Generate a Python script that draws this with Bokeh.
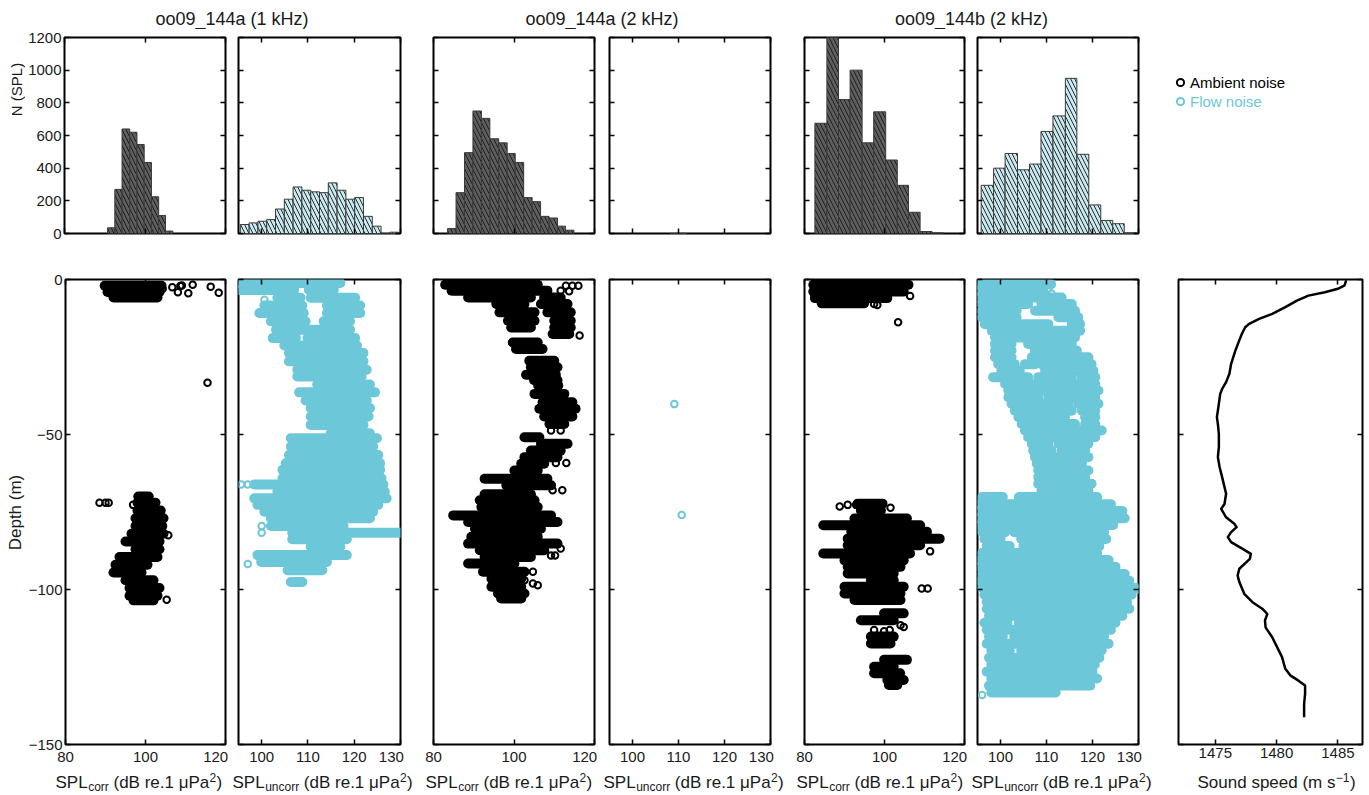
import math
from bokeh.plotting import figure
from bokeh.models import (Range1d, LinearAxis, FixedTicker, Label, Legend,
                          LegendItem, ColumnDataSource, Spacer)
from bokeh.layouts import column, row
from bokeh.embed import file_html
from bokeh.resources import INLINE
from bokeh.core.properties import value

# ------------------------------------------------------------------ data
pair_titles = ["oo09_144a (1 kHz)", "oo09_144a (2 kHz)", "oo09_144b (2 kHz)"]
legend_labels = ["Ambient noise", "Flow noise"]
y_titles = ["N (SPL)", "Depth (m)"]

count_ticks = [0, 200, 400, 600, 800, 1000, 1200]
count_tick_labels = ["0", "200", "400", "600", "800", "1000", "1200"]
depth_ticks = [0, -50, -100, -150]
depth_tick_labels = ["0", "\u221250", "\u2212100", "\u2212150"]
corr_ticks = [80, 100, 120]
corr_tick_labels = ["80", "100", "120"]
uncorr_ticks = [100, 110, 120, 130]
uncorr_tick_labels = ["100", "110", "120", "130"]
speed_ticks = [1475, 1480, 1485]
speed_tick_labels = ["1475", "1480", "1485"]

# histograms (bin edges, counts)
h_amb_a1_edges = [90.7, 92.5, 94.3, 96.2, 98.0, 99.8, 101.6, 103.4, 105.1, 106.9]
h_amb_a1_counts = [35, 270, 640, 620, 545, 435, 225, 110, 15]
h_flow_a1_edges = [95.4, 97.3, 99.2, 101.1, 103.0, 104.9, 106.8, 108.7, 110.6, 112.5,
                   114.4, 116.3, 118.2, 120.1, 122.0, 123.9, 125.8, 127.7, 129.6]
h_flow_a1_counts = [55, 65, 75, 85, 150, 210, 285, 265, 255, 250, 310, 265, 210, 220,
                    105, 45, 0, 8]
h_amb_a2_edges = [83.5, 85.6, 87.7, 89.8, 91.9, 94.0, 96.2, 98.3, 100.3, 102.4, 104.5,
                  106.6, 108.7, 110.8, 112.8, 114.9]
h_amb_a2_counts = [30, 250, 495, 750, 705, 580, 555, 490, 435, 220, 195, 105, 95, 45, 20]
h_flow_a2_edges = [108.2, 110.0, 111.8]
h_flow_a2_counts = [1, 1]
h_amb_b2_edges = [82.6, 85.6, 88.5, 91.4, 94.4, 97.3, 100.3, 103.2, 106.0, 108.9, 111.9, 114.7]
h_amb_b2_counts = [675, 1215, 820, 1000, 555, 745, 450, 295, 130, 12, 4]
h_flow_b2_edges = [95.8, 98.5, 101.0, 103.7, 106.3, 108.8, 111.4, 114.1, 116.6, 119.2,
                   121.8, 124.4, 126.9, 129.6]
h_flow_b2_counts = [295, 400, 490, 390, 425, 625, 720, 950, 485, 175, 80, 60, 4]

# scatter clouds: rows of (depth, SPL from, SPL to) + isolated points (SPL, depth)
amb_a1_rows = [(-2.0, 89.8, 104.0), (-4.0, 90.5, 103.5), (-5.8, 92.0, 103.0),
               (-70.0, 98.2, 100.8), (-72.0, 98.0, 102.5), (-74.5, 98.0, 103.8),
               (-77.0, 97.5, 104.5), (-79.5, 97.5, 104.2), (-82.0, 96.5, 104.5),
               (-84.5, 95.0, 103.5), (-87.0, 97.5, 103.5), (-89.5, 93.5, 103.0),
               (-92.0, 92.5, 100.5), (-94.5, 92.0, 99.0), (-97.0, 95.0, 102.0),
               (-99.5, 96.0, 103.5), (-102.0, 96.0, 103.0), (-103.5, 97.0, 102.0)]
amb_a1_points = [(104.3, -3.0), (106.7, -2.5), (108.1, -4.1), (108.7, -2.1), (109.1, -1.9),
                 (110.7, -4.4), (111.8, -1.7), (116.3, -2.3), (118.3, -4.3), (115.5, -33.3),
                 (88.5, -72.0), (90.0, -72.0), (90.8, -72.0), (96.9, -72.7), (105.7, -82.5),
                 (105.3, -103.3)]

flow_a1_rows = [(-1.1, 94.9, 117.0),
                (-3.4, 95.0, 107.0), (-3.4, 110.2, 115.6),
                (-5.9, 103.4, 108.4), (-5.9, 110.6, 120.2),
                (-8.4, 100.6, 108.8), (-8.4, 114.1, 121.3),
                (-10.8, 99.5, 109.1), (-10.8, 114.1, 121.3),
                (-13.5, 102.0, 109.5), (-13.5, 113.4, 119.1),
                (-16.2, 103.1, 110.6), (-16.2, 111.3, 119.1),
                (-18.9, 102.4, 107.4), (-18.9, 109.9, 120.2),
                (-21.3, 104.9, 109.1), (-21.3, 110.9, 120.6),
                (-23.7, 105.9, 109.9), (-23.7, 111.3, 122.0),
                (-26.4, 105.9, 122.0), (-29.1, 107.7, 122.7), (-31.3, 107.7, 121.6),
                (-33.9, 112.0, 123.4), (-36.4, 108.1, 124.5), (-39.0, 109.5, 122.7),
                (-41.5, 110.6, 123.4), (-44.2, 110.6, 123.1), (-46.9, 110.6, 122.0),
                (-49.6, 114.9, 123.4), (-51.2, 106.3, 124.9), (-53.9, 106.3, 124.1),
                (-56.6, 105.9, 125.2), (-59.3, 105.2, 125.6), (-61.4, 104.5, 125.6),
                (-64.1, 104.5, 125.9), (-66.1, 98.4, 126.3), (-68.4, 103.4, 126.6),
                (-70.6, 98.4, 127.0), (-72.7, 99.1, 125.2), (-74.9, 100.6, 124.1),
                (-77.0, 102.0, 123.4), (-79.5, 102.0, 117.7), (-81.7, 106.6, 129.9),
                (-83.8, 106.6, 118.4), (-86.2, 110.6, 117.0), (-88.9, 99.1, 118.4),
                (-91.1, 99.9, 114.1), (-93.8, 105.6, 113.1), (-97.6, 106.3, 108.8)]
flow_a1_points = [(100.6, -6.5), (95.6, -66.1), (97.0, -66.1), (100.0, -79.5),
                  (100.0, -81.7), (97.0, -91.8)]

amb_a2_rows = [(-1.7, 82.9, 105.9), (-3.6, 84.5, 108.3),
               (-5.8, 88.6, 104.2), (-5.8, 107.5, 111.6),
               (-7.9, 95.6, 102.6), (-7.9, 106.7, 113.3),
               (-10.6, 96.4, 105.1), (-10.6, 108.3, 114.1),
               (-13.3, 98.5, 105.1), (-13.3, 110.0, 114.1),
               (-15.5, 99.3, 104.2), (-15.5, 110.0, 114.1),
               (-17.6, 109.6, 113.7), (-20.3, 99.7, 105.9), (-22.4, 100.5, 107.1),
               (-26.2, 103.8, 110.0), (-28.3, 104.2, 110.8), (-30.7, 103.0, 110.4),
               (-32.5, 105.0, 110.8), (-34.2, 106.0, 111.0), (-36.9, 105.1, 112.5),
               (-39.6, 107.1, 114.5), (-41.7, 106.3, 115.3), (-44.2, 107.5, 114.5),
               (-46.6, 108.8, 112.5), (-50.9, 102.6, 106.3), (-53.0, 106.7, 113.3),
               (-55.2, 104.2, 111.6), (-57.3, 102.6, 110.8), (-59.4, 101.8, 107.5),
               (-61.6, 100.1, 105.9), (-64.3, 92.7, 108.3), (-66.4, 98.1, 109.2),
               (-69.3, 92.7, 104.2), (-71.2, 91.5, 105.1), (-73.4, 91.9, 105.9),
               (-76.1, 84.9, 109.2), (-78.2, 88.6, 110.8), (-80.4, 90.3, 106.7),
               (-83.0, 89.4, 105.9), (-85.2, 88.6, 110.8), (-87.3, 91.5, 107.5),
               (-89.5, 92.7, 104.2), (-91.6, 88.6, 100.1), (-94.3, 92.3, 102.6),
               (-96.5, 94.4, 101.8), (-99.1, 94.4, 101.8), (-101.3, 96.0, 102.6),
               (-102.9, 96.8, 101.8)]
amb_a2_points = [(112.9, -2.0), (114.5, -2.0), (116.0, -2.0), (111.6, -3.6), (113.7, -3.8),
                 (113.9, -17.6), (116.3, -18.1), (109.2, -48.7), (111.6, -48.7),
                 (110.4, -59.2), (113.0, -59.2), (109.6, -68.0), (112.0, -68.0),
                 (92.7, -79.8), (93.5, -79.8), (111.6, -86.8), (109.2, -89.0),
                 (110.2, -89.0), (104.7, -94.3), (102.6, -97.0), (104.7, -98.1),
                 (105.9, -98.6)]

flow_a2_rows = []
flow_a2_points = [(109.1, -40.2), (110.7, -76.0)]

amb_b2_rows = [(-1.7, 82.2, 106.0), (-3.9, 82.2, 104.8), (-6.0, 82.6, 100.7),
               (-7.7, 84.3, 94.9),
               (-72.3, 93.3, 99.5), (-74.5, 94.1, 99.1), (-77.1, 92.5, 105.6),
               (-79.3, 84.7, 108.9), (-81.4, 91.7, 110.6), (-83.6, 90.8, 113.8),
               (-85.7, 90.8, 108.9), (-88.4, 84.7, 106.4), (-90.6, 90.0, 104.8),
               (-92.7, 90.8, 104.0), (-94.8, 90.8, 102.3), (-97.0, 96.6, 102.3),
               (-99.1, 90.0, 104.8), (-101.3, 90.0, 104.0), (-103.4, 92.5, 104.0),
               (-107.7, 99.9, 104.8), (-109.9, 94.1, 102.3), (-115.2, 96.6, 102.3),
               (-117.4, 96.6, 101.5), (-122.7, 99.9, 105.6), (-124.9, 97.4, 102.3),
               (-127.0, 97.4, 103.9), (-129.2, 100.7, 104.8), (-130.8, 101.1, 103.2)]
amb_b2_points = [(106.4, -5.3), (97.4, -7.9), (98.2, -8.2), (103.4, -13.8), (88.8, -73.2),
                 (90.8, -72.7), (92.9, -72.7), (101.5, -73.6), (111.4, -87.7),
                 (109.3, -99.7), (110.8, -99.7), (104.0, -111.5), (104.8, -112.1),
                 (97.4, -113.1), (99.9, -113.5), (101.3, -113.1)]

flow_b2_rows = [(-1.5, 95.0, 111.0), (-3.6, 95.0, 109.3),
                (-5.8, 95.0, 104.6), (-5.8, 105.7, 113.3),
                (-7.9, 95.9, 106.0), (-7.9, 108.9, 115.5),
                (-10.1, 95.9, 103.5), (-10.1, 107.5, 116.2),
                (-12.2, 95.9, 103.5), (-12.2, 112.6, 116.9),
                (-14.4, 96.6, 110.4), (-14.4, 115.5, 117.3),
                (-16.5, 98.1, 114.0), (-16.5, 115.1, 117.3),
                (-18.7, 98.8, 116.2),
                (-20.8, 98.8, 102.4), (-20.8, 106.0, 115.5),
                (-22.9, 98.8, 102.4), (-22.9, 107.5, 116.6),
                (-25.1, 98.8, 102.4), (-25.1, 106.8, 119.1),
                (-27.3, 99.5, 103.1), (-27.3, 105.3, 107.5), (-27.3, 108.9, 119.8),
                (-29.4, 100.2, 104.2), (-29.4, 109.7, 114.8), (-29.4, 116.6, 120.2),
                (-31.5, 98.4, 106.0), (-31.5, 108.2, 115.5), (-31.5, 117.7, 120.6),
                (-33.7, 101.0, 106.8), (-33.7, 108.2, 117.7), (-33.7, 118.4, 120.6),
                (-35.8, 101.7, 107.5), (-35.8, 108.9, 121.3),
                (-38.0, 101.7, 108.2), (-38.0, 110.4, 116.9), (-38.0, 118.4, 120.6),
                (-40.1, 102.4, 114.8), (-40.1, 116.9, 121.3),
                (-42.3, 103.1, 115.5), (-42.3, 117.7, 120.6),
                (-44.4, 103.9, 114.0), (-44.4, 118.4, 120.6),
                (-46.6, 104.6, 108.2), (-46.6, 109.7, 116.2), (-46.6, 118.4, 120.6),
                (-48.7, 105.3, 118.4), (-48.7, 119.8, 122.0),
                (-50.9, 106.0, 109.7), (-50.9, 111.1, 120.6),
                (-53.0, 106.8, 110.4), (-53.0, 112.6, 119.1),
                (-55.2, 107.1, 111.1), (-55.2, 113.3, 118.4),
                (-57.3, 107.5, 119.1),
                (-59.4, 107.9, 111.8), (-59.4, 113.3, 117.7),
                (-61.6, 108.2, 119.1), (-63.7, 108.2, 118.4), (-65.9, 108.2, 119.8),
                (-68.0, 108.9, 119.1),
                (-70.2, 96.0, 100.5), (-70.2, 104.0, 121.0),
                (-72.5, 95.0, 124.0), (-74.7, 95.0, 126.5), (-77.0, 95.0, 127.0),
                (-79.2, 95.5, 124.5),
                (-81.5, 96.0, 101.0), (-81.5, 103.0, 122.5),
                (-83.7, 96.5, 100.0), (-83.7, 104.5, 123.0),
                (-86.0, 97.0, 102.0), (-86.0, 105.0, 121.5),
                (-88.2, 96.0, 121.0), (-90.5, 95.5, 123.5), (-92.7, 95.5, 125.0),
                (-95.0, 96.0, 127.0), (-97.2, 95.5, 128.0), (-99.5, 96.0, 129.5),
                (-101.7, 96.5, 128.5), (-104.0, 97.0, 127.5),
                (-106.2, 97.0, 103.0), (-106.2, 105.0, 128.0),
                (-108.5, 97.5, 126.5),
                (-110.7, 96.5, 101.5), (-110.7, 104.0, 125.0),
                (-113.0, 97.0, 124.0),
                (-115.2, 97.5, 100.5), (-115.2, 103.0, 122.5),
                (-117.5, 97.0, 123.5),
                (-119.7, 98.0, 102.0), (-119.7, 104.5, 122.0),
                (-122.0, 97.5, 121.5), (-124.2, 98.0, 120.5), (-126.5, 97.0, 120.0),
                (-128.7, 98.0, 121.0), (-131.0, 97.5, 119.5), (-133.2, 98.0, 112.0)]
flow_b2_points = [(110.4, -3.0), (111.1, -4.5), (130.0, -100.0), (96.0, -134.0)]

sound_speed = [1485.67, 1485.54, 1485.0, 1483.93, 1482.59, 1481.65, 1480.71, 1479.64,
               1478.57, 1477.76, 1477.44, 1477.17, 1476.90, 1476.64, 1476.29, 1476.15,
               1475.88, 1475.56, 1475.40, 1475.29, 1475.13, 1475.21, 1475.29, 1475.29,
               1475.21, 1475.35, 1475.62, 1475.88, 1475.75, 1475.48, 1475.88, 1476.55,
               1476.74, 1476.29, 1476.02, 1476.29, 1477.23, 1477.90, 1477.82, 1476.96,
               1476.82, 1476.96, 1477.36, 1478.03, 1478.83, 1479.24, 1479.05, 1479.10,
               1479.64, 1480.04, 1480.44, 1480.71, 1481.11, 1481.78, 1482.32, 1482.32,
               1482.24, 1482.24]
sound_depth = [-0.3, -1.9, -3.0, -4.1, -5.2, -6.8, -8.9, -11.1, -12.7, -14.3, -15.4, -17.5,
               -20.2, -22.9, -27.2, -30.4, -33.1, -35.3, -36.9, -40.1, -44.4, -46.6, -49.8,
               -54.1, -57.3, -60.5, -64.8, -69.1, -72.4, -74.0, -76.7, -78.8, -79.9, -81.5,
               -83.1, -84.7, -86.9, -88.5, -90.1, -93.3, -95.5, -97.6, -101.4, -104.1,
               -106.2, -107.9, -110.0, -112.2, -115.4, -118.6, -121.8, -125.6, -127.7,
               -129.4, -131.0, -133.7, -136.9, -141.2]

# ------------------------------------------------------------------ style / layout
FONT = "Liberation Sans"
AMB = "#000000"
FLOW = "#6cc7d8"
HIST_DARK = "#5e5e5e"
HIST_LIGHT = "#c9e9f0"
TXT = "#1a1a1a"
TICK_FS = "15px"
NBSP = "\u00a0"

CORR_RANGE = (80, 120)
UNCORR_RANGE = (95, 130)
SPEED_RANGE = (1472, 1487)

LEFT_W = 25
# (left border, frame width, right border) per column
COLS = [(38, 162, 11), (2, 162, 20), (13, 161, 11), (4, 161, 20),
        (14, 160, 11), (2, 161, 20), (20, 184, 2)]
STRIP_H = 29
TOP_BT, TOP_FH, TOP_BB = 8, 196, 38
BOT_BT, BOT_FH, BOT_BB = 8, 466, 22
XL_H = 27
TOTAL_H = STRIP_H + TOP_BT + TOP_FH + TOP_BB + BOT_BT + BOT_FH + BOT_BB + XL_H

frames = []
_x = LEFT_W
for bl, fw, br in COLS:
    frames.append((_x + bl, _x + bl + fw))
    _x += bl + fw + br
MAIN_W = _x - LEFT_W

CHAR_W = {"S": 667, "P": 667, "L": 556, "c": 500, "o": 556, "r": 333, "u": 556,
          "n": 556, " ": 278, "(": 333, ")": 333, "d": 556, "B": 667, "e": 556,
          ".": 278, "1": 556, "\u03bc": 576, "a": 556, "2": 556, "m": 833,
          "s": 500, "p": 556, "\u2212": 584}


def text_width(s, size):
    return sum(CHAR_W.get(ch, 556) for ch in s) * size / 1000.0


def blank_fig(w, h, **borders):
    p = figure(width=w, height=h, title=None, x_range=Range1d(0, 1), y_range=Range1d(0, 1),
               x_axis_type=None, y_axis_type=None, output_backend="svg",
               toolbar_location=None,
               min_border_left=borders.get("left", 0), min_border_right=borders.get("right", 0),
               min_border_top=borders.get("top", 0), min_border_bottom=borders.get("bottom", 0))
    p.outline_line_color = None
    return p


def rich_label(p, x0, y_mid, pieces):
    # pieces: (text, font px, vertical shift of the text middle, gap before)
    x = x0
    for txt, size, dy, gap in pieces:
        x += gap
        p.add_layout(Label(x=x, y=y_mid + dy, x_units="screen", y_units="screen", text=txt,
                           text_font=FONT, text_font_size=f"{size}px", text_color=TXT,
                           text_baseline="middle", text_align="left"))
        x += text_width(txt, size)


def make_fig(ci, xr, yr, bt, fh, bb):
    bl, fw, br = COLS[ci]
    p = figure(width=bl + fw + br, height=bt + fh + bb, title=None,
               x_range=Range1d(*xr), y_range=Range1d(*yr),
               x_axis_type=None, y_axis_type=None,
               output_backend="svg", toolbar_location=None,
               min_border_left=bl, min_border_right=br,
               min_border_top=bt, min_border_bottom=bb)
    p.outline_line_color = "black"
    p.outline_line_width = 2
    p.background_fill_color = "white"
    p.border_fill_color = "white"
    return p


def add_axis(p, side, ticks, labels=None, standoff=3, pad_last=0):
    ax = LinearAxis(ticker=FixedTicker(ticks=ticks, minor_ticks=[]))
    ax.axis_line_color = None
    ax.major_tick_in = 5
    ax.major_tick_out = 0
    ax.major_tick_line_color = "black"
    ax.major_tick_line_width = 1.5
    ax.minor_tick_line_color = None
    if labels is None:
        ax.major_label_overrides = {t: "" for t in ticks}
        ax.major_label_text_font_size = "1px"
        ax.major_label_standoff = 0
    else:
        labs = list(labels)
        # the label sitting on the frame's right edge is pulled inside the box
        labs[-1] = labs[-1] + NBSP * pad_last
        ax.major_label_overrides = {t: l for t, l in zip(ticks, labs)}
        ax.major_label_text_font = FONT
        ax.major_label_text_font_size = TICK_FS
        ax.major_label_text_color = TXT
        ax.major_label_standoff = standoff
    p.add_layout(ax, side)
    return ax


# ------------------------------------------------------------------ left strip (y titles)
left_fig = blank_fig(LEFT_W, TOTAL_H)
left_fig.add_layout(Label(x=16, y=TOTAL_H - 89, x_units="screen", y_units="screen",
                          text=y_titles[0], text_font=FONT, text_font_size="15px",
                          text_color=TXT, angle=math.pi / 2, text_align="center",
                          text_baseline="middle"))
bot_frame_mid = STRIP_H + TOP_BT + TOP_FH + TOP_BB + BOT_BT + BOT_FH / 2.0
left_fig.add_layout(Label(x=15, y=TOTAL_H - bot_frame_mid, x_units="screen", y_units="screen",
                          text=y_titles[1], text_font=FONT, text_font_size="17px",
                          text_color=TXT, angle=math.pi / 2, text_align="center",
                          text_baseline="middle"))

# ------------------------------------------------------------------ title strip
strip = blank_fig(MAIN_W, STRIP_H)
for k, title in enumerate(pair_titles):
    cx = (frames[2 * k][0] + frames[2 * k + 1][1]) / 2.0 - LEFT_W
    strip.add_layout(Label(x=cx, y=STRIP_H - 18, x_units="screen", y_units="screen",
                           text=title, text_font=FONT, text_font_size="18px",
                           text_color=TXT, text_align="center", text_baseline="middle"))

# ------------------------------------------------------------------ histograms (top row)
hist_sets = [(h_amb_a1_edges, h_amb_a1_counts, "dark"),
             (h_flow_a1_edges, h_flow_a1_counts, "light"),
             (h_amb_a2_edges, h_amb_a2_counts, "dark"),
             (h_flow_a2_edges, h_flow_a2_counts, "light"),
             (h_amb_b2_edges, h_amb_b2_counts, "dark"),
             (h_flow_b2_edges, h_flow_b2_counts, "light")]

top_figs = []
for ci, (edges, counts, kind) in enumerate(hist_sets):
    corr = (ci % 2 == 0)
    xr = CORR_RANGE if corr else UNCORR_RANGE
    xt = corr_ticks if corr else uncorr_ticks
    p = make_fig(ci, xr, (0, 1200), TOP_BT, TOP_FH, TOP_BB)
    src = ColumnDataSource(dict(left=edges[:-1], right=edges[1:], top=counts,
                                bottom=[0] * len(counts)))
    fill, hcol = (HIST_DARK, "#1e1e1e") if kind == "dark" else (HIST_LIGHT, "#2c2c2c")
    p.quad(left="left", right="right", top="top", bottom="bottom", source=src,
           fill_color=fill, line_color="#3a3a3a", line_width=1,
           hatch_pattern="left_diagonal_line", hatch_color=hcol,
           hatch_scale=8, hatch_weight=1)
    add_axis(p, "below", xt)
    add_axis(p, "above", xt)
    add_axis(p, "left", count_ticks, count_tick_labels if ci == 0 else None)
    add_axis(p, "right", count_ticks)
    top_figs.append(p)

# legend slot (two one-item legends, each in its own small panel)
bl7, fw7, br7 = COLS[6]
slot_w = bl7 + fw7 + br7
leg_specs = [(legend_labels[0], amb_a1_points, AMB, "black", 63, 44),
             (legend_labels[1], flow_a1_points, FLOW, FLOW, 19, 0)]
leg_children = []
used_h = 0
for lab, pts, mcol, tcol, h, top in leg_specs:
    lf = blank_fig(slot_w, h, left=13, top=top)
    # proxy renderer: real points, all outside this panel's ranges (only the legend glyph shows)
    rr = lf.scatter(x=[q[0] for q in pts], y=[q[1] for q in pts], marker="circle", size=6.5,
                    line_color=mcol, line_width=2, fill_color=None)
    lg = Legend(items=[LegendItem(label=value(lab), renderers=[rr])],
                location="top_left", border_line_color=None, background_fill_alpha=0,
                padding=0, margin=0, spacing=0,
                glyph_width=18, glyph_height=18, label_height=18, label_standoff=1,
                label_text_font=FONT, label_text_font_size="15px", label_text_color=tcol)
    lf.add_layout(lg)
    leg_children.append(lf)
    used_h += h
leg_children.append(Spacer(width=slot_w, height=TOP_BT + TOP_FH + TOP_BB - used_h))
top_figs.append(column(*leg_children))

# ------------------------------------------------------------------ depth profiles (bottom row)
scatter_sets = [(amb_a1_rows, amb_a1_points, AMB),
                (flow_a1_rows, flow_a1_points, FLOW),
                (amb_a2_rows, amb_a2_points, AMB),
                (flow_a2_rows, flow_a2_points, FLOW),
                (amb_b2_rows, amb_b2_points, AMB),
                (flow_b2_rows, flow_b2_points, FLOW)]

bot_figs = []
for ci, (rows_, pts, color) in enumerate(scatter_sets):
    corr = (ci % 2 == 0)
    xr = CORR_RANGE if corr else UNCORR_RANGE
    xt = corr_ticks if corr else uncorr_ticks
    xtl = corr_tick_labels if corr else uncorr_tick_labels
    p = make_fig(ci, xr, (-150, 0), BOT_BT, BOT_FH, BOT_BB)
    rsrc = ColumnDataSource(dict(d=[r[0] for r in rows_], lo=[r[1] for r in rows_],
                                 hi=[r[2] for r in rows_]))
    p.segment(x0="lo", y0="d", x1="hi", y1="d", source=rsrc, line_color=color,
              line_width=10, line_cap="round")
    psrc = ColumnDataSource(dict(x=[q[0] for q in pts], y=[q[1] for q in pts]))
    p.scatter(x="x", y="y", source=psrc, marker="circle", size=6.5, line_color=color,
              line_width=2, fill_color=None)
    add_axis(p, "below", xt, xtl, standoff=3, pad_last=2 if corr else 4)
    add_axis(p, "above", xt)
    add_axis(p, "left", depth_ticks, depth_tick_labels if ci == 0 else None)
    add_axis(p, "right", depth_ticks)
    bot_figs.append(p)

# sound speed panel
p = make_fig(6, SPEED_RANGE, (-150, 0), BOT_BT, BOT_FH, BOT_BB)
p.line(x=sound_speed, y=sound_depth, line_color="black", line_width=2.5, line_join="round")
add_axis(p, "below", speed_ticks, speed_tick_labels, standoff=3)
add_axis(p, "above", speed_ticks)
add_axis(p, "left", depth_ticks)
add_axis(p, "right", depth_ticks)
bot_figs.append(p)

# ------------------------------------------------------------------ x titles strip
xl = blank_fig(MAIN_W, XL_H)
pieces_corr = [("SPL", 17, 0, 0), ("corr", 12, -4, 0.5), ("(dB re.1 \u03bcPa", 17, 0, 4.7),
               ("2", 12, 5.5, 0.3), (")", 17, 0, 0.3)]
pieces_uncorr = [("SPL", 17, 0, 0), ("uncorr", 12, -4, 0.5), ("(dB re.1 \u03bcPa", 17, 0, 4.7),
                 ("2", 12, 5.5, 0.3), (")", 17, 0, 0.3)]
pieces_speed = [("Sound speed (m s", 17, 0, 0), ("\u22121", 12, 5.5, 0.3), (")", 17, 0, 0.5)]
xl_pieces = [pieces_corr, pieces_uncorr, pieces_corr, pieces_uncorr, pieces_corr,
             pieces_uncorr, pieces_speed]
xl_offsets = [-8, -6, -8, -6, -8, -6, 19]
for ci in range(7):
    rich_label(xl, frames[ci][0] - LEFT_W + xl_offsets[ci], 12, xl_pieces[ci])

main = column(strip, row(*top_figs), row(*bot_figs), xl)
layout = row(left_fig, main)

with open("out.html", "w") as f:
    f.write(file_html(layout, INLINE))
